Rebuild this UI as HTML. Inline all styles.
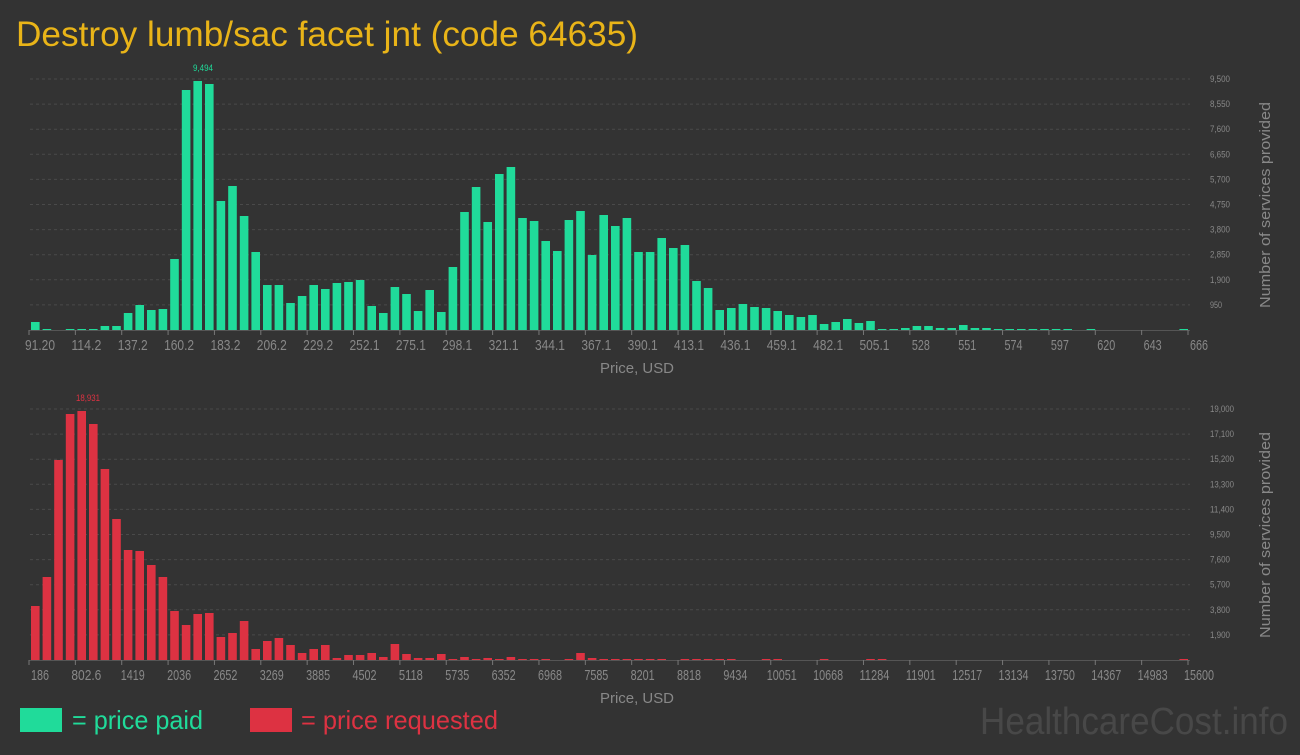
<!DOCTYPE html>
<html><head><meta charset="utf-8"><style>
body{margin:0;background:#333333;width:1300px;height:750px;overflow:hidden;font-family:"Liberation Sans",sans-serif;}
svg text{font-family:"Liberation Sans",sans-serif;}
</style></head><body>
<svg id="s" width="1300" height="750" xmlns="http://www.w3.org/2000/svg">
<rect width="1300" height="750" fill="#333333"/>
<text x="16" y="46" font-size="35" fill="#e9b418" textLength="622" lengthAdjust="spacingAndGlyphs">Destroy lumb/sac facet jnt (code 64635)</text>
<rect x="20" y="708" width="42" height="24" fill="#20db9a"/>
<text x="72" y="729" font-size="26" fill="#20db9a" textLength="131" lengthAdjust="spacingAndGlyphs">= price paid</text>
<rect x="250" y="708" width="42" height="24" fill="#dd3242"/>
<text x="301" y="729" font-size="26" fill="#dd3242" textLength="197" lengthAdjust="spacingAndGlyphs">= price requested</text>
<text x="980" y="734" font-size="38" fill="#484848" textLength="308" lengthAdjust="spacingAndGlyphs">HealthcareCost.info</text>
<g id="g"></g>
</svg>
<script>
var g=document.getElementById('g'),h='';
function t(x,y,s,fs,fill,anchor,extra,w){h+='<text x="'+x+'" y="'+y+'" font-size="'+fs+'" fill="'+fill+'" text-anchor="'+(anchor||'start')+'" '+(w?'textLength="'+w+'" lengthAdjust="spacingAndGlyphs" ':'')+(extra||'')+'>'+s+'</text>';}
function chart(base,step,ylabs,hs,col,xl,peak){
  for(var i=1;i<=10;i++){var y=base-i*step;h+='<line x1="30" x2="1190" y1="'+y+'" y2="'+y+'" stroke="#4a4a4a" stroke-dasharray="3,3"/>';t(1210,y+3,ylabs[i-1],9,'#888','start','',ylabs[i-1].length*4);}
  h+='<line x1="29" x2="1190" y1="'+(base+0.5)+'" y2="'+(base+0.5)+'" stroke="#555"/>';
  for(var i=0;i<100;i++){var v=hs[i]||0;if(v>0)h+='<rect x="'+(31+i*11.6).toFixed(1)+'" y="'+(base-v)+'" width="8.6" height="'+v+'" fill="'+col+'"/>';}
  for(var i=0;i<26;i++){var x=29+i*46.36;h+='<line x1="'+x+'" x2="'+x+'" y1="'+base+'" y2="'+(base+5)+'" stroke="#777"/>';t(x+11,base+20,xl[i],15,'#888','middle','',xl[i].length*6);}
  t(637,base+43,'Price, USD',15,'#888','middle','',74);
  t(1270,(base-125),'Number of services provided',15,'#888','middle','transform="rotate(-90 1270 '+(base-125)+')"',206);
  t(peak[0],base-259,peak[1],9,col,'middle','',peak[1].length*4);
}
var topD=[8,1,0,1,1,1,4,4,17,25,20,21,71,240,249,246,129,144,114,78,45,45,27,34,45,41,47,48,50,24,17,43,36,19,40,18,63,118,143,108,156,163,112,109,89,79,110,119,75,115,104,112,78,78,92,82,85,49,42,20,22,26,23,22,19,15,13,15,6,8,11,7,9,1,1,2,4,4,2,2,5,2,2,1,1,1,1,1,1,1,0,1,0,0,0,0,0,0,0,1];
var botD=[54,83,200,246,249,236,191,141,110,109,95,83,49,35,46,47,23,27,39,11,19,22,15,7,11,15,2,5,5,7,3,16,6,2,2,6,1,3,1,2,1,3,1,1,1,0,1,7,2,1,1,1,1,1,1,0,1,1,1,1,1,0,0,1,1,0,0,0,1,0,0,0,1,1,0,0,0,0,0,0,0,0,0,0,0,0,0,0,0,0,0,0,0,0,0,0,0,0,0,1];
chart(330,25.1,['950','1,900','2,850','3,800','4,750','5,700','6,650','7,600','8,550','9,500'],topD,'#20db9a',
['91.20','114.2','137.2','160.2','183.2','206.2','229.2','252.1','275.1','298.1','321.1','344.1','367.1','390.1','413.1','436.1','459.1','482.1','505.1','528','551','574','597','620','643','666'],[203,'9,494']);
chart(660,25.1,['1,900','3,800','5,700','7,600','9,500','11,400','13,300','15,200','17,100','19,000'],botD,'#dd3242',
['186','802.6','1419','2036','2652','3269','3885','4502','5118','5735','6352','6968','7585','8201','8818','9434','10051','10668','11284','11901','12517','13134','13750','14367','14983','15600'],[88,'18,931']);
g.innerHTML=h;
</script>
</body></html>
